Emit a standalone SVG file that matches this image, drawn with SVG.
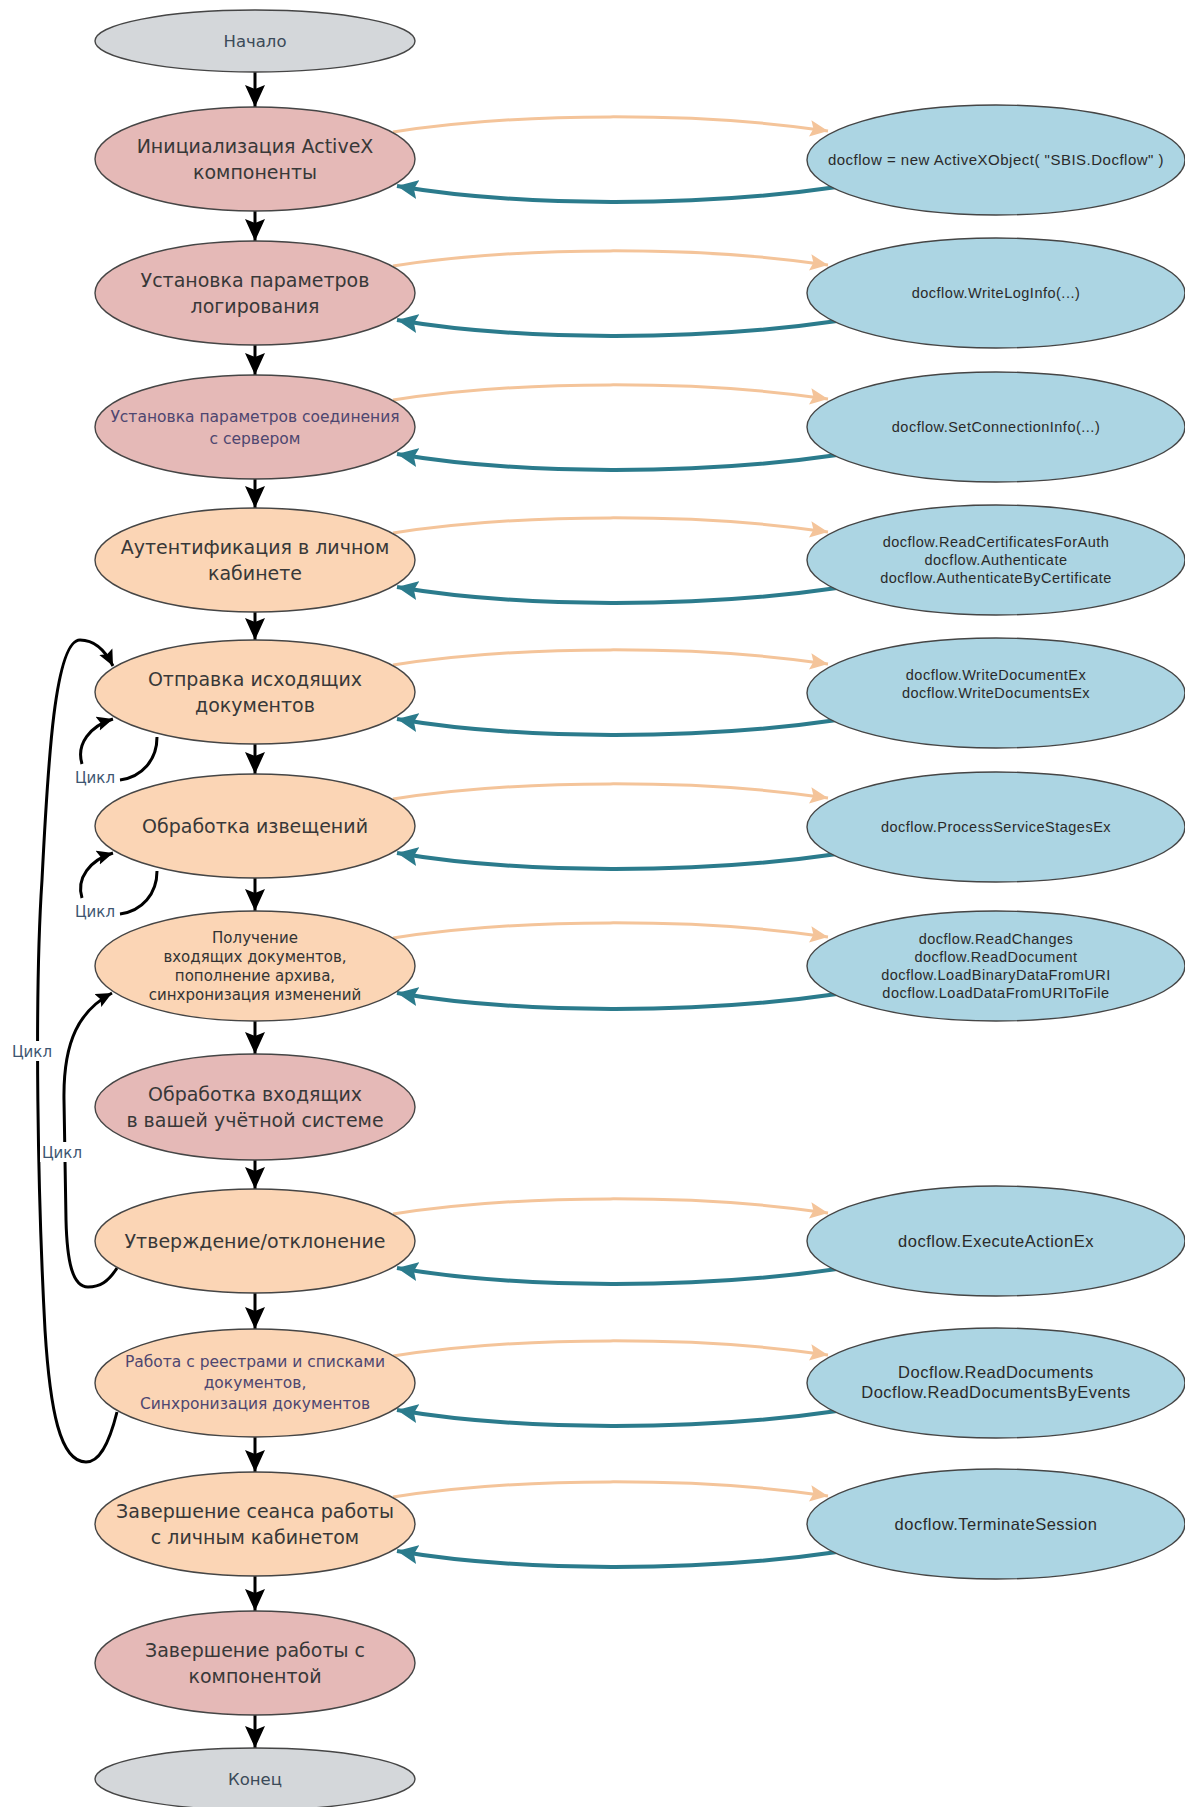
<svg xmlns="http://www.w3.org/2000/svg" width="1185" height="1807" viewBox="0 0 1185 1807">
<defs>
<style>
.bg{fill:#ffffff}
.n{stroke:#454545;stroke-width:1.4}
.gray{fill:#d4d7da}
.pink{fill:#e5b9b7}
.peach{fill:#fbd5b5}
.blue{fill:#acd5e3}
.t{font-family:"DejaVu Sans",Verdana,sans-serif;text-anchor:middle;fill:#383838}
.big{font-size:19px}
.small{font-size:15.5px;fill:#4e4670}
.med{font-size:15px;fill:#333333}
.st{font-size:16.5px;fill:#3b4a58}
.b{font-family:"Liberation Sans",Arial,sans-serif;text-anchor:middle;fill:#2a2a2a;font-size:14.5px;letter-spacing:0.5px}
.b1{font-size:15px}
.bl{font-size:16.5px}
.flow{fill:none;stroke:#000;stroke-width:3}
.out{fill:none;stroke:#f4c49a;stroke-width:3}
.ret{fill:none;stroke:#2b7b8c;stroke-width:4}
.loop{fill:none;stroke:#000;stroke-width:3}
.lbl{font-family:"DejaVu Sans",Verdana,sans-serif;font-size:15px;fill:#3d5570;text-anchor:middle}
</style>
<marker id="mBlack" viewBox="0 0 22 20" refX="22" refY="10" markerWidth="22" markerHeight="20" markerUnits="userSpaceOnUse" orient="auto"><path d="M0,0 L22,10 L0,20 L4,10 z" fill="#000"/></marker>
<marker id="mLoop" viewBox="0 0 22 20" refX="22" refY="10" markerWidth="16" markerHeight="15" markerUnits="userSpaceOnUse" orient="auto"><path d="M0,0 L22,10 L0,20 L4,10 z" fill="#000"/></marker>
<marker id="mOrange" viewBox="0 0 22 20" refX="22" refY="10" markerWidth="18" markerHeight="17" markerUnits="userSpaceOnUse" orient="auto"><path d="M0,0 L22,10 L0,20 L4,10 z" fill="#f4c49a"/></marker>
<marker id="mTeal" viewBox="0 0 22 20" refX="22" refY="10" markerWidth="21" markerHeight="20" markerUnits="userSpaceOnUse" orient="auto"><path d="M0,0 L22,10 L0,20 L4,10 z" fill="#2b7b8c"/></marker>
</defs>
<rect class="bg" x="0" y="0" width="1185" height="1807"/>

<g id="connectors">
<path class="flow" marker-end="url(#mBlack)" d="M255,72 L255,107"/>
<path class="flow" marker-end="url(#mBlack)" d="M255,211 L255,241"/>
<path class="flow" marker-end="url(#mBlack)" d="M255,345 L255,375"/>
<path class="flow" marker-end="url(#mBlack)" d="M255,479 L255,508"/>
<path class="flow" marker-end="url(#mBlack)" d="M255,612 L255,640"/>
<path class="flow" marker-end="url(#mBlack)" d="M255,744 L255,774"/>
<path class="flow" marker-end="url(#mBlack)" d="M255,878 L255,911"/>
<path class="flow" marker-end="url(#mBlack)" d="M255,1021 L255,1054"/>
<path class="flow" marker-end="url(#mBlack)" d="M255,1160 L255,1189"/>
<path class="flow" marker-end="url(#mBlack)" d="M255,1293 L255,1329"/>
<path class="flow" marker-end="url(#mBlack)" d="M255,1437 L255,1472"/>
<path class="flow" marker-end="url(#mBlack)" d="M255,1576 L255,1611"/>
<path class="flow" marker-end="url(#mBlack)" d="M255,1715 L255,1748"/>

<path class="out" marker-end="url(#mOrange)" d="M393,132 C520,112 700,112 828,131"/>
<path class="ret" marker-end="url(#mTeal)" d="M837,187 C700,207 520,207 397,186"/>
<path class="out" marker-end="url(#mOrange)" d="M393,266 C520,246 700,246 828,265"/>
<path class="ret" marker-end="url(#mTeal)" d="M837,321 C700,341 520,341 397,320"/>
<path class="out" marker-end="url(#mOrange)" d="M393,400 C520,380 700,380 828,399"/>
<path class="ret" marker-end="url(#mTeal)" d="M837,455 C700,475 520,475 397,454"/>
<path class="out" marker-end="url(#mOrange)" d="M393,533 C520,513 700,513 828,532"/>
<path class="ret" marker-end="url(#mTeal)" d="M837,588 C700,608 520,608 397,587"/>
<path class="out" marker-end="url(#mOrange)" d="M393,665 C520,645 700,645 828,664"/>
<path class="ret" marker-end="url(#mTeal)" d="M837,720 C700,740 520,740 397,719"/>
<path class="out" marker-end="url(#mOrange)" d="M393,799 C520,779 700,779 828,798"/>
<path class="ret" marker-end="url(#mTeal)" d="M837,854 C700,874 520,874 397,853"/>
<path class="out" marker-end="url(#mOrange)" d="M393,938 C520,918 700,918 828,937"/>
<path class="ret" marker-end="url(#mTeal)" d="M837,994 C700,1014 520,1014 397,993"/>
<path class="out" marker-end="url(#mOrange)" d="M393,1214 C520,1194 700,1194 828,1213"/>
<path class="ret" marker-end="url(#mTeal)" d="M837,1269 C700,1289 520,1289 397,1268"/>
<path class="out" marker-end="url(#mOrange)" d="M393,1356 C520,1336 700,1336 828,1355"/>
<path class="ret" marker-end="url(#mTeal)" d="M837,1411 C700,1431 520,1431 397,1410"/>
<path class="out" marker-end="url(#mOrange)" d="M393,1497 C520,1477 700,1477 828,1496"/>
<path class="ret" marker-end="url(#mTeal)" d="M837,1552 C700,1572 520,1572 397,1551"/>

<path class="loop" d="M157,737 C157,760 142,777 120,780"/>
<path class="loop" marker-end="url(#mLoop)" d="M82,764 C76,744 90,726 113,719"/>
<text class="lbl" x="95" y="783">Цикл</text>
<path class="loop" d="M157,871 C157,894 142,911 120,914"/>
<path class="loop" marker-end="url(#mLoop)" d="M82,898 C76,878 90,860 113,853"/>
<text class="lbl" x="95" y="917">Цикл</text>

<path class="loop" marker-end="url(#mLoop)" d="M117,1412 C108,1448 98,1462 86,1462 C60,1462 50,1410 45,1330 C38,1200 34,1000 42,880 C48,760 55,640 80,640 C95,640 106,652 113,666"/>
<rect class="bg" x="10" y="1041" width="44" height="20"/>
<text class="lbl" x="32" y="1057">Цикл</text>

<path class="loop" marker-end="url(#mLoop)" d="M117,1268 C108,1282 100,1287 88,1287 C72,1287 67,1260 66,1220 L64,1100 C63,1040 80,1010 112,993"/>
<rect class="bg" x="40" y="1142" width="44" height="20"/>
<text class="lbl" x="62" y="1158">Цикл</text>
</g>

<g id="start"><ellipse class="n gray" cx="255" cy="41" rx="160" ry="31"/><text class="t st" x="255" y="47">Начало</text></g>
<g id="init"><ellipse class="n pink" cx="255" cy="159" rx="160" ry="52"/><text class="t big" x="255" y="153">Инициализация ActiveX</text><text class="t big" x="255" y="179">компоненты</text></g>
<g id="log"><ellipse class="n pink" cx="255" cy="293" rx="160" ry="52"/><text class="t big" x="255" y="287">Установка параметров</text><text class="t big" x="255" y="313">логирования</text></g>
<g id="conn"><ellipse class="n pink" cx="255" cy="427" rx="160" ry="52"/><text class="t small" x="255" y="422">Установка параметров соединения</text><text class="t small" x="255" y="444">с сервером</text></g>
<g id="auth"><ellipse class="n peach" cx="255" cy="560" rx="160" ry="52"/><text class="t big" x="255" y="554">Аутентификация в личном</text><text class="t big" x="255" y="580">кабинете</text></g>
<g id="send"><ellipse class="n peach" cx="255" cy="692" rx="160" ry="52"/><text class="t big" x="255" y="686">Отправка исходящих</text><text class="t big" x="255" y="712">документов</text></g>
<g id="notif"><ellipse class="n peach" cx="255" cy="826" rx="160" ry="52"/><text class="t big" x="255" y="833">Обработка извещений</text></g>
<g id="recv"><ellipse class="n peach" cx="255" cy="966" rx="160" ry="55"/><text class="t med" x="255" y="943">Получение</text><text class="t med" x="255" y="962">входящих документов,</text><text class="t med" x="255" y="981">пополнение архива,</text><text class="t med" x="255" y="1000">синхронизация изменений</text></g>
<g id="proc"><ellipse class="n pink" cx="255" cy="1107" rx="160" ry="53"/><text class="t big" x="255" y="1101">Обработка входящих</text><text class="t big" x="255" y="1127">в вашей учётной системе</text></g>
<g id="approve"><ellipse class="n peach" cx="255" cy="1241" rx="160" ry="52"/><text class="t big" x="255" y="1248">Утверждение/отклонение</text></g>
<g id="reg"><ellipse class="n peach" cx="255" cy="1383" rx="160" ry="54"/><text class="t small" x="255" y="1367">Работа с реестрами и списками</text><text class="t small" x="255" y="1388">документов,</text><text class="t small" x="255" y="1409">Синхронизация документов</text></g>
<g id="term"><ellipse class="n peach" cx="255" cy="1524" rx="160" ry="52"/><text class="t big" x="255" y="1518">Завершение сеанса работы</text><text class="t big" x="255" y="1544">с личным кабинетом</text></g>
<g id="endc"><ellipse class="n pink" cx="255" cy="1663" rx="160" ry="52"/><text class="t big" x="255" y="1657">Завершение работы с</text><text class="t big" x="255" y="1683">компонентой</text></g>
<g id="end"><ellipse class="n gray" cx="255" cy="1779" rx="160" ry="31"/><text class="t st" x="255" y="1785">Конец</text></g>

<g id="b_init"><ellipse class="n blue" cx="996" cy="160" rx="189" ry="55"/><text class="b b1" x="996" y="165">docflow = new ActiveXObject( "SBIS.Docflow" )</text></g>
<g id="b_log"><ellipse class="n blue" cx="996" cy="293" rx="189" ry="55"/><text class="b" x="996" y="298">docflow.WriteLogInfo(...)</text></g>
<g id="b_conn"><ellipse class="n blue" cx="996" cy="427" rx="189" ry="55"/><text class="b" x="996" y="432">docflow.SetConnectionInfo(...)</text></g>
<g id="b_auth"><ellipse class="n blue" cx="996" cy="560" rx="189" ry="55"/><text class="b" x="996" y="547">docflow.ReadCertificatesForAuth</text><text class="b" x="996" y="565">docflow.Authenticate</text><text class="b" x="996" y="583">docflow.AuthenticateByCertificate</text></g>
<g id="b_send"><ellipse class="n blue" cx="996" cy="693" rx="189" ry="55"/><text class="b" x="996" y="680">docflow.WriteDocumentEx</text><text class="b" x="996" y="698">docflow.WriteDocumentsEx</text></g>
<g id="b_notif"><ellipse class="n blue" cx="996" cy="827" rx="189" ry="55"/><text class="b" x="996" y="832">docflow.ProcessServiceStagesEx</text></g>
<g id="b_recv"><ellipse class="n blue" cx="996" cy="966" rx="189" ry="55"/><text class="b" x="996" y="944">docflow.ReadChanges</text><text class="b" x="996" y="962">docflow.ReadDocument</text><text class="b" x="996" y="980">docflow.LoadBinaryDataFromURI</text><text class="b" x="996" y="998">docflow.LoadDataFromURIToFile</text></g>
<g id="b_approve"><ellipse class="n blue" cx="996" cy="1241" rx="189" ry="55"/><text class="b bl" x="996" y="1247">docflow.ExecuteActionEx</text></g>
<g id="b_reg"><ellipse class="n blue" cx="996" cy="1383" rx="189" ry="55"/><text class="b bl" x="996" y="1378">Docflow.ReadDocuments</text><text class="b bl" x="996" y="1398">Docflow.ReadDocumentsByEvents</text></g>
<g id="b_term"><ellipse class="n blue" cx="996" cy="1524" rx="189" ry="55"/><text class="b bl" x="996" y="1530">docflow.TerminateSession</text></g>
</svg>
